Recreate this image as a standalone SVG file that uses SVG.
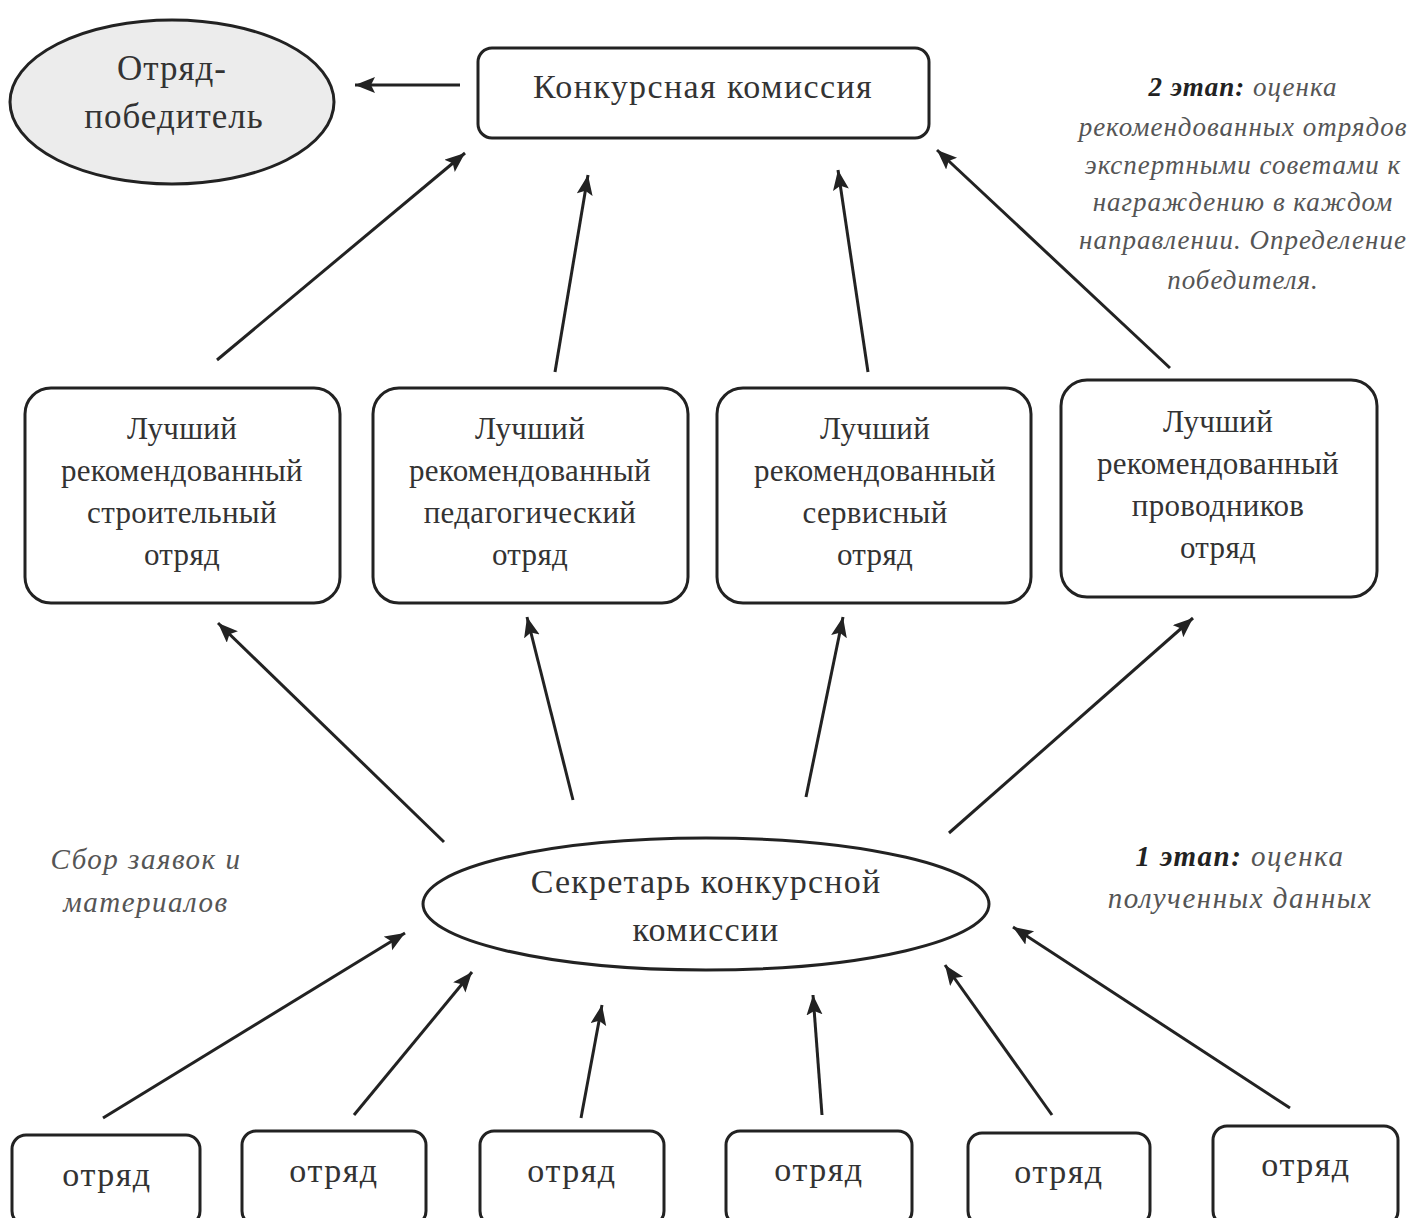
<svg xmlns="http://www.w3.org/2000/svg" width="1414" height="1218" viewBox="0 0 1414 1218">
<defs>
<marker id="ah" markerUnits="userSpaceOnUse" markerWidth="22" markerHeight="18" refX="20" refY="8" orient="auto">
<path d="M0,0 L20,8 L0,16 L4,8 Z" fill="#222"/>
</marker>
<style>
.box{fill:#fff;stroke:#222;stroke-width:3}
.lbl{font-family:"Liberation Serif","Times New Roman",serif;fill:#333;text-anchor:middle}
.mid{font-size:31px;letter-spacing:0.3px}
.unit{font-size:34px;letter-spacing:1.5px}
.it{font-family:"Liberation Serif","Times New Roman",serif;font-style:italic;fill:#555;text-anchor:middle;font-size:27px;letter-spacing:1px}
.it2{font-size:29px;letter-spacing:1.5px}
.con line{stroke:#222;stroke-width:3;marker-end:url(#ah)}
</style>
</defs>
<rect width="1414" height="1218" fill="#fff"/>

<g id="winner">
<ellipse cx="172" cy="102" rx="162" ry="82" fill="#ececec" stroke="#222" stroke-width="3"/>
<text class="lbl" x="172" y="80" font-size="35" letter-spacing="1">Отряд-</text>
<text class="lbl" x="174" y="128" font-size="35" letter-spacing="1">победитель</text>
</g>

<g id="commission">
<rect class="box" x="478" y="48" width="451" height="90" rx="14"/>
<text class="lbl" x="703" y="98" font-size="34" letter-spacing="1.4">Конкурсная комиссия</text>
</g>

<g id="best1">
<rect class="box" x="25" y="388" width="315" height="215" rx="26"/>
<text class="lbl mid" x="182" y="439">Лучший</text>
<text class="lbl mid" x="182" y="481">рекомендованный</text>
<text class="lbl mid" x="182" y="523">строительный</text>
<text class="lbl mid" x="182" y="565">отряд</text>
</g>
<g id="best2">
<rect class="box" x="373" y="388" width="315" height="215" rx="26"/>
<text class="lbl mid" x="530" y="439">Лучший</text>
<text class="lbl mid" x="530" y="481">рекомендованный</text>
<text class="lbl mid" x="530" y="523">педагогический</text>
<text class="lbl mid" x="530" y="565">отряд</text>
</g>
<g id="best3">
<rect class="box" x="717" y="388" width="314" height="215" rx="26"/>
<text class="lbl mid" x="875" y="439">Лучший</text>
<text class="lbl mid" x="875" y="481">рекомендованный</text>
<text class="lbl mid" x="875" y="523">сервисный</text>
<text class="lbl mid" x="875" y="565">отряд</text>
</g>
<g id="best4">
<rect class="box" x="1061" y="380" width="316" height="217" rx="26"/>
<text class="lbl mid" x="1218" y="432">Лучший</text>
<text class="lbl mid" x="1218" y="474">рекомендованный</text>
<text class="lbl mid" x="1218" y="516">проводников</text>
<text class="lbl mid" x="1218" y="558">отряд</text>
</g>

<g id="secretary">
<ellipse cx="706" cy="904" rx="283" ry="66" fill="#fff" stroke="#222" stroke-width="3"/>
<text class="lbl" x="706" y="893" font-size="34" letter-spacing="1.2">Секретарь конкурсной</text>
<text class="lbl" x="706" y="941" font-size="34" letter-spacing="1.2">комиссии</text>
</g>

<g id="unit1"><rect class="box" x="12" y="1135" width="188" height="90" rx="14"/><text class="lbl unit" x="107" y="1186">отряд</text></g>
<g id="unit2"><rect class="box" x="242" y="1131" width="184" height="94" rx="14"/><text class="lbl unit" x="334" y="1182">отряд</text></g>
<g id="unit3"><rect class="box" x="480" y="1131" width="184" height="94" rx="14"/><text class="lbl unit" x="572" y="1182">отряд</text></g>
<g id="unit4"><rect class="box" x="726" y="1131" width="186" height="94" rx="14"/><text class="lbl unit" x="819" y="1181">отряд</text></g>
<g id="unit5"><rect class="box" x="968" y="1133" width="182" height="92" rx="14"/><text class="lbl unit" x="1059" y="1183">отряд</text></g>
<g id="unit6"><rect class="box" x="1213" y="1126" width="185" height="99" rx="14"/><text class="lbl unit" x="1306" y="1176">отряд</text></g>

<g id="notes">
<text class="it" x="1243" y="96"><tspan font-weight="bold" fill="#222">2 этап:</tspan> оценка</text>
<text class="it" x="1243" y="136">рекомендованных отрядов</text>
<text class="it" x="1243" y="174">экспертными советами к</text>
<text class="it" x="1243" y="211">награждению в каждом</text>
<text class="it" x="1243" y="249">направлении. Определение</text>
<text class="it" x="1243" y="289">победителя.</text>
<text class="it it2" x="1240" y="866"><tspan font-weight="bold" fill="#222">1 этап:</tspan> оценка</text>
<text class="it it2" x="1240" y="908">полученных данных</text>
<text class="it it2" x="146" y="869">Сбор заявок и</text>
<text class="it it2" x="146" y="912">материалов</text>
</g>

<g id="connectors" class="con">
<line x1="460" y1="85" x2="355" y2="85"/>
<line x1="217" y1="360" x2="465" y2="153"/>
<line x1="555" y1="372" x2="588" y2="175"/>
<line x1="868" y1="372" x2="838" y2="170"/>
<line x1="1170" y1="368" x2="937" y2="150"/>
<line x1="444" y1="842" x2="218" y2="623"/>
<line x1="573" y1="800" x2="527" y2="617"/>
<line x1="806" y1="797" x2="843" y2="617"/>
<line x1="949" y1="833" x2="1193" y2="618"/>
<line x1="103" y1="1118" x2="405" y2="933"/>
<line x1="354" y1="1115" x2="472" y2="972"/>
<line x1="581" y1="1118" x2="602" y2="1005"/>
<line x1="822" y1="1115" x2="813" y2="995"/>
<line x1="1052" y1="1115" x2="945" y2="965"/>
<line x1="1290" y1="1108" x2="1013" y2="927"/>
</g>
</svg>
